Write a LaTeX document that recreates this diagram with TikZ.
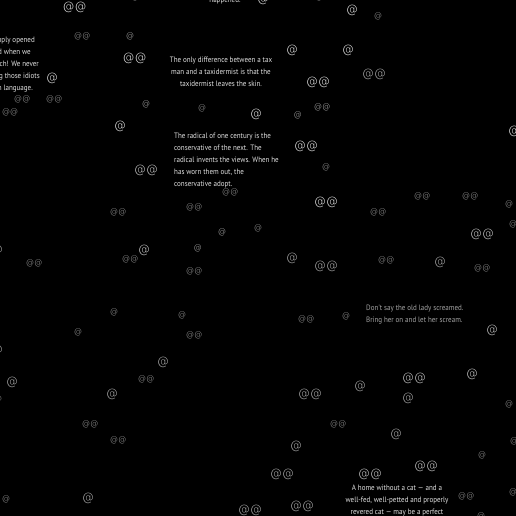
\documentclass[tikz,border=0pt]{standalone}
\usepackage{fontspec}
\newfontfamily\atfont{DejaVu Sans ExtraLight}
\newfontfamily\qfont[FakeStretch=0.9]{PT Sans}
\definecolor{cbright}{HTML}{F0F0F0}
\definecolor{cmid}{HTML}{D2D2D2}
\definecolor{cgray}{HTML}{B4B4B4}
\definecolor{csmall}{HTML}{A0A0A0}
\definecolor{csmallb}{HTML}{B6B6B6}
\definecolor{ctext}{HTML}{E2E2E2}
\definecolor{ctextdim}{HTML}{A4A4A4}
\newcommand\ol[1]{#1}
\begin{document}
\begin{tikzpicture}[x=1pt,y=-1pt,
  atbase/.style={inner sep=0pt,outer sep=0pt},
  LB/.style={atbase,font=\atfont\fontsize{11.8}{12}\selectfont,text=cbright},
  LM/.style={atbase,font=\atfont\fontsize{11.8}{12}\selectfont,text=cmid},
  LG/.style={atbase,font=\atfont\fontsize{11.8}{12}\selectfont,text=cgray},
  SD/.style={atbase,font=\atfont\fontsize{8.2}{8}\selectfont,text=csmall},
  SS/.style={atbase,font=\atfont\fontsize{8.2}{8}\selectfont,text=csmallb},
  quote/.style={inner sep=0pt,font=\qfont\fontsize{7.8}{12}\selectfont,text=ctext},
  quotedim/.style={quote,text=ctextdim}]
\fill[black] (0,0) rectangle (516,516);
\useasboundingbox (0,0) rectangle (516,516);
\clip (0,0) rectangle (516,516);
% quotes
\node[quote,anchor=base east] (q1a) at (35,42.3) {In Paris they simply opened};
\node[quote,anchor=base east] (q1b) at (31,54.3) {their eyes and stared when we};
\node[quote,anchor=base east] (q1c) at (39,66.3) {spoke to them in French! We never};
\node[quote,anchor=base east] (q1d) at (40,78.3) {did succeed in making those idiots};
\node[quote,anchor=base east] (q1e) at (33,90.3) {understand their own language.};
\node[quote,anchor=base] (q2) at (225,2.5) {happened.};
\node[quote,anchor=base] (q3a) at (221,62.5) {The only difference between a tax};
\node[quote,anchor=base] (q3b) at (221,74.5) {man and a taxidermist is that the};
\node[quote,anchor=base] (q3c) at (221,86.5) {taxidermist leaves the skin.};
\node[quote,anchor=base west] (q4a) at (174,138.3) {The radical of one century is the};
\node[quote,anchor=base west] (q4b) at (174,150.3) {conservative of the next. The};
\node[quote,anchor=base west] (q4c) at (174,162.3) {radical invents the views. When he};
\node[quote,anchor=base west] (q4d) at (174,174.3) {has worn them out, the};
\node[quote,anchor=base west] (q4e) at (174,186.3) {conservative adopt.};
\node[quotedim,anchor=base west] (q5a) at (366,310.5) {Don't say the old lady screamed.};
\node[quotedim,anchor=base west] (q5b) at (366,322.5) {Bring her on and let her scream.};
\node[quote,anchor=base] (q6a) at (397,490.5) {A home without a cat — and a};
\node[quote,anchor=base] (q6b) at (397,502.5) {well-fed, well-petted and properly};
\node[quote,anchor=base] (q6c) at (397,514.5) {revered cat — may be a perfect};
% large bright doubles
\node[LB] (d1) at (74.5,7) {\ol{@@}};
\node[LB] (d2) at (134.5,58.5) {\ol{@@}};
\node[LB] (d3) at (318,82) {\ol{@@}};
\node[LB] (d4) at (306,146) {\ol{@@}};
\node[LB] (d5) at (326,202.5) {\ol{@@}};
\node[LM] (d6) at (146,170) {\ol{@@}};
\node[LM] (d7) at (482,234.5) {\ol{@@}};
\node[LM] (d8) at (414,378.7) {\ol{@@}};
\node[LM] (d9) at (370,474) {\ol{@@}};
\node[LM] (d10) at (426,466.7) {\ol{@@}};
% large gray doubles
\node[LG] (g1) at (374,74.5) {\ol{@@}};
\node[LG] (g2) at (326,266.7) {\ol{@@}};
\node[LG] (g3) at (310,394.7) {\ol{@@}};
\node[LG] (g4) at (282,474.7) {\ol{@@}};
\node[LG] (g5) at (250,510) {\ol{@@}};
\node[LG] (g6) at (302,506.7) {\ol{@@}};
% large bright singles
\node[LB] (s1) at (352,10) {\ol{@}};
\node[LB] (s2) at (52,78) {\ol{@}};
\node[LB] (s3) at (120,126) {\ol{@}};
\node[LB] (s4) at (292,50.5) {\ol{@}};
\node[LB] (s5) at (348,50) {\ol{@}};
\node[LB] (s6) at (256,114) {\ol{@}};
\node[LM] (s7) at (144,250) {\ol{@}};
\node[LB] (s8) at (514,131) {\ol{@}};
\node[LB] (s9) at (263,-1) {\ol{@}};
\node[LM] (s10) at (492,330) {\ol{@}};
\node[LM] (s11) at (472,374.7) {\ol{@}};
% large gray singles
\node[LG] (t1) at (292,258.7) {\ol{@}};
\node[LG] (t2) at (440,262.7) {\ol{@}};
\node[LG] (t3) at (12,382.7) {\ol{@}};
\node[LG] (t4) at (163,362) {\ol{@}};
\node[LG] (t5) at (112,394.7) {\ol{@}};
\node[LG] (t6) at (88,498.3) {\ol{@}};
\node[LG] (t7) at (296,446) {\ol{@}};
\node[LG] (t8) at (360,386.7) {\ol{@}};
\node[LG] (t9) at (408,398.7) {\ol{@}};
\node[LG] (t10) at (396,434) {\ol{@}};
\node[LG] (t11) at (-3,250) {\ol{@}};
\node[LG] (t12) at (-3,350) {\ol{@}};
% small doubles
\node[SD] (u1) at (82,36) {\ol{@@}};
\node[SD] (u2) at (22,99.5) {\ol{@@}};
\node[SD] (u3) at (54,99.5) {\ol{@@}};
\node[SD] (u4) at (10,112) {\ol{@@}};
\node[SS] (u5) at (322,107.7) {\ol{@@}};
\node[SD] (u6) at (118,212) {\ol{@@}};
\node[SD] (u7) at (34,263.7) {\ol{@@}};
\node[SD] (u8) at (130,259.7) {\ol{@@}};
\node[SD] (u9) at (230,192) {\ol{@@}};
\node[SD] (u10) at (194,207.7) {\ol{@@}};
\node[SD] (u11) at (194,271.7) {\ol{@@}};
\node[SD] (u12) at (306,319.7) {\ol{@@}};
\node[SD] (u13) at (194,335.7) {\ol{@@}};
\node[SD] (u14) at (422,196) {\ol{@@}};
\node[SD] (u15) at (470,196) {\ol{@@}};
\node[SD] (u16) at (378,212) {\ol{@@}};
\node[SD] (u17) at (386,260) {\ol{@@}};
\node[SD] (u18) at (482,268) {\ol{@@}};
\node[SD] (u19) at (146,379.7) {\ol{@@}};
\node[SD] (u20) at (90,424) {\ol{@@}};
\node[SD] (u21) at (118,440) {\ol{@@}};
\node[SD] (u22) at (338,424) {\ol{@@}};
\node[SD] (u23) at (466,496) {\ol{@@}};
% small singles
\node[SS] (v1) at (130,36) {\ol{@}};
\node[SD] (v2) at (378,16) {\ol{@}};
\node[SS] (v3) at (146,104) {\ol{@}};
\node[SD] (v4) at (202,108) {\ol{@}};
\node[SS] (v5) at (297.7,115.7) {\ol{@}};
\node[SD] (v6) at (326,167) {\ol{@}};
\node[SS] (v7) at (222,232) {\ol{@}};
\node[SD] (v8) at (258,228) {\ol{@}};
\node[SS] (v9) at (197.7,248) {\ol{@}};
\node[SD] (v10) at (114,312) {\ol{@}};
\node[SD] (v11) at (78,332) {\ol{@}};
\node[SD] (v12) at (182,315.7) {\ol{@}};
\node[SD] (v13) at (346,316) {\ol{@}};
\node[SD] (v14) at (509,204) {\ol{@}};
\node[SD] (v15) at (513,224) {\ol{@}};
\node[SD] (v16) at (509,404) {\ol{@}};
\node[SD] (v17) at (6,499.7) {\ol{@}};
\node[SD] (v18) at (482,455.7) {\ol{@}};
\node[SD] (v19) at (514,441) {\ol{@}};
\node[SD] (v20) at (513,492) {\ol{@}};
\node[SD] (v21) at (481,516) {\ol{@}};
\node[SD] (v22) at (135,-3) {\ol{@}};
\node[SD] (v23) at (319,-3) {\ol{@}};
\node[SD] (v24) at (-2,399) {\ol{@}};
\end{tikzpicture}
\end{document}
